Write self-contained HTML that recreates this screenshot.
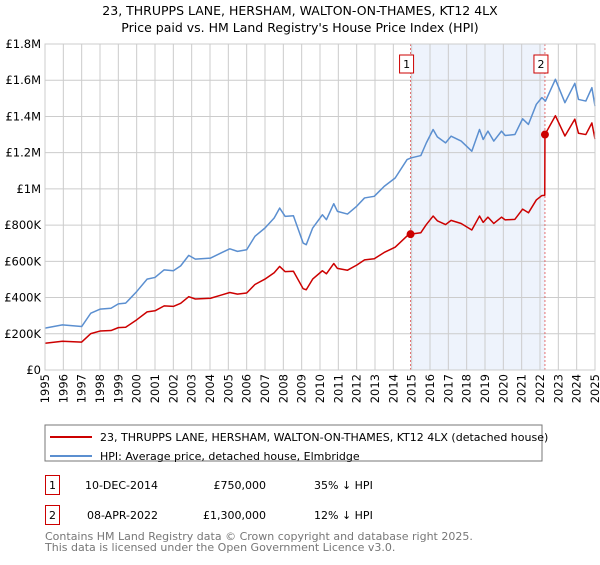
<!DOCTYPE html>
<html><head><meta charset="utf-8"><style>
body{margin:0;width:600px;height:560px;background:#fff;font-family:"Liberation Sans","DejaVu Sans",sans-serif;overflow:hidden}
svg text{font-family:"DejaVu Sans","Liberation Sans",sans-serif}
</style></head><body>
<svg id="c" width="600" height="560">
<text x="300" y="15" text-anchor="middle" font-size="12.5">23, THRUPPS LANE, HERSHAM, WALTON-ON-THAMES, KT12 4LX</text>
<text x="300" y="32" text-anchor="middle" font-size="12.5">Price paid vs. HM Land Registry's House Price Index (HPI)</text>
<g id="grid"></g><g id="marks"></g>
<rect x="45" y="425" width="497" height="36" fill="none" stroke="#777"/>
<line x1="50" y1="437" x2="92" y2="437" stroke="#cc0000" stroke-width="2"/>
<text x="100" y="441" font-size="11">23, THRUPPS LANE, HERSHAM, WALTON-ON-THAMES, KT12 4LX (detached house)</text>
<line x1="50" y1="456" x2="92" y2="456" stroke="#5b8fd0" stroke-width="2"/>
<text x="100" y="460" font-size="11">HPI: Average price, detached house, Elmbridge</text>
<g font-size="11">
<rect x="45.5" y="475.5" width="14" height="19" fill="none" stroke="#cc0000"/>
<text x="52.5" y="489" text-anchor="middle">1</text>
<text x="158" y="489" text-anchor="end">10-DEC-2014</text>
<text x="266" y="489" text-anchor="end">£750,000</text>
<text x="314" y="489">35% ↓ HPI</text>
<rect x="45.5" y="505.5" width="14" height="19" fill="none" stroke="#cc0000"/>
<text x="52.5" y="519" text-anchor="middle">2</text>
<text x="158" y="519" text-anchor="end">08-APR-2022</text>
<text x="266" y="519" text-anchor="end">£1,300,000</text>
<text x="314" y="519">12% ↓ HPI</text>
</g>
<text x="45" y="540" font-size="11" fill="#777">Contains HM Land Registry data © Crown copyright and database right 2025.</text>
<text x="45" y="551" font-size="11" fill="#777">This data is licensed under the Open Government Licence v3.0.</text>
</svg>
<script>
const hpiYears=[1995,1995.95,1997,1997.5,1998,1998.6,1999,1999.4,2000,2000.57,2001,2001.5,2002,2002.4,2002.84,2003.2,2004.03,2004.66,2005.08,2005.5,2006,2006.45,2007,2007.5,2007.8,2008.1,2008.55,2009.08,2009.25,2009.6,2010.13,2010.35,2010.75,2010.95,2011.5,2012,2012.43,2012.96,2013.5,2014.1,2014.75,2014.96,2015.5,2015.8,2016.17,2016.4,2016.85,2017.15,2017.7,2018.28,2018.7,2018.9,2019.16,2019.48,2019.9,2020.1,2020.63,2021.05,2021.37,2021.8,2022.1,2022.3,2022.84,2023.36,2023.9,2024.1,2024.5,2024.83,2025];
const hpiValues=[231,249,240,314,336,341,365,369,433,502,511,553,548,575,633,612,618,649,669,655,664,738,784,839,894,848,852,701,692,784,857,830,918,876,861,904,950,959,1014,1060,1162,1171,1184,1254,1328,1287,1254,1291,1264,1208,1328,1273,1319,1264,1319,1295,1300,1387,1356,1467,1504,1485,1605,1476,1583,1494,1485,1559,1457];
const priceYears=[1995,1995.95,1997,1997.5,1998,1998.6,1999,1999.4,2000,2000.57,2001,2001.5,2002,2002.4,2002.84,2003.2,2004.03,2004.66,2005.08,2005.5,2006,2006.45,2007,2007.5,2007.8,2008.1,2008.55,2009.08,2009.25,2009.6,2010.13,2010.35,2010.75,2010.95,2011.5,2012,2012.43,2012.96,2013.5,2014.1,2014.75,2014.94,2015.5,2015.8,2016.17,2016.4,2016.85,2017.15,2017.7,2018.28,2018.7,2018.9,2019.16,2019.48,2019.9,2020.1,2020.63,2021.05,2021.37,2021.8,2022.1,2022.26,2022.27,2022.84,2023.36,2023.9,2024.1,2024.5,2024.83,2025];
const priceValues=[148,159,154,201,215,218,234,236,277,321,327,354,351,368,405,392,396,415,428,419,425,472,502,537,572,543,545,449,443,502,548,531,588,561,551,579,608,614,649,678,740,750,758,803,850,824,803,826,809,773,850,815,844,809,844,829,832,888,868,939,963,965,1300,1404,1292,1385,1307,1300,1364,1275];
const saleYears=[2014.94,2022.27];
const saleValues=[750,1300];
const saleLabels=["1","2"];
const yTicks=[0,200,400,600,800,1000,1200,1400,1600,1800];
const yTickLabels=["£0","£200K","£400K","£600K","£800K","£1M","£1.2M","£1.4M","£1.6M","£1.8M"];
const xTicks=[1995,1996,1997,1998,1999,2000,2001,2002,2003,2004,2005,2006,2007,2008,2009,2010,2011,2012,2013,2014,2015,2016,2017,2018,2019,2020,2021,2022,2023,2024,2025];

const NS="http://www.w3.org/2000/svg";
const X0=45,X1=595,Y0=370,Y1=44;
const xs=y=>X0+(y-1995)/30*(X1-X0);
const ys=v=>Y0-v/1800*(Y0-Y1);
function mk(tag,attrs,parent){const e=document.createElementNS(NS,tag);for(const k in attrs)e.setAttribute(k,attrs[k]);parent.appendChild(e);return e;}
const grid=document.getElementById('grid'),marks=document.getElementById('marks');
const shade=mk('rect',{x:xs(saleYears[0]),y:Y1,width:xs(saleYears[1])-xs(saleYears[0]),height:Y0-Y1,fill:'#eef3fc'},grid);


yTicks.forEach((t,i)=>{
  const l=mk('line',{x1:X0,x2:X1,y1:ys(t),y2:ys(t),stroke:'#ccc'},grid);
  
  
  const tx=mk('text',{x:X0-4,y:ys(t)+4,'text-anchor':'end','font-size':11.5},grid);
  tx.textContent=yTickLabels[i];
  
  
});
xTicks.forEach(t=>{
  const l=mk('line',{x1:xs(t),x2:xs(t),y1:Y1,y2:Y0,stroke:'#ccc'},grid);
  
  
  const tx=mk('text',{transform:'translate('+(xs(t)+4)+',374) rotate(-90)','text-anchor':'end','font-size':11.5},grid);
  tx.textContent=t;
  
  
});
saleYears.forEach((s,i)=>{
  const l=mk('line',{x1:xs(s),x2:xs(s),y1:Y1,y2:Y0,stroke:'#e05050','stroke-dasharray':'2,2','stroke-width':0.8},grid);
  
  
  const r=mk('rect',{x:xs(s)-11,y:55,width:14,height:18,fill:'#fff',stroke:'#cc0000'},grid);
  
  
  const tx=mk('text',{x:xs(s)-4,y:68,'text-anchor':'middle','font-size':11},grid);
  tx.textContent=saleLabels[i];
  
  
});
const hp=mk('polyline',{points:hpiYears.map((y,i)=>xs(y)+','+ys(hpiValues[i])).join(' '),fill:'none',stroke:'#5b8fd0','stroke-width':1.5,'stroke-linejoin':'round'},marks);


const pp=mk('polyline',{points:priceYears.map((y,i)=>xs(y)+','+ys(priceValues[i])).join(' '),fill:'none',stroke:'#cc0000','stroke-width':1.5,'stroke-linejoin':'round'},marks);


saleYears.forEach((s,i)=>{
  const c=mk('circle',{cx:xs(s),cy:ys(saleValues[i]),r:4,fill:'#cc0000'},marks);
  
  
});
const ax=mk('rect',{x:X0,y:Y1,width:X1-X0,height:Y0-Y1,fill:'none',stroke:'#ccc'},marks);


</script>
</body></html>
